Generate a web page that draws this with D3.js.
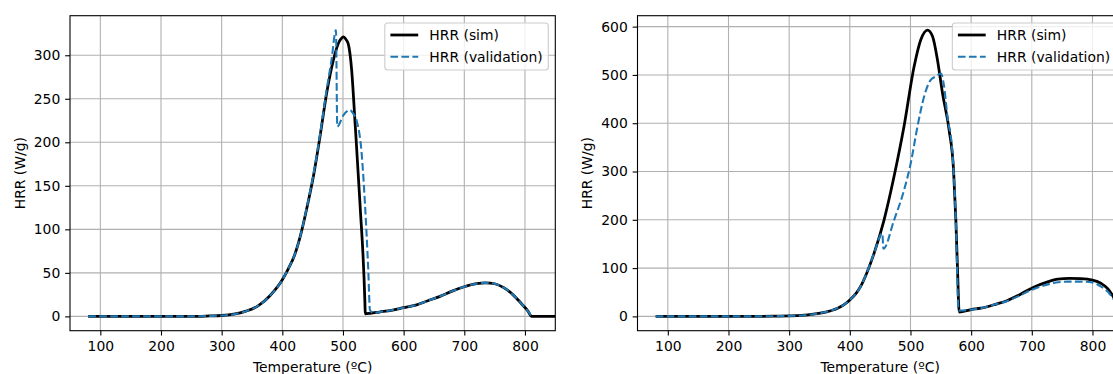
<!DOCTYPE html>
<html>
<head>
<meta charset="utf-8">
<script src="https://cdn.jsdelivr.net/npm/d3@7"></script>
<style>
  body { margin: 0; background: #fff; }
  svg text { font-family: "DejaVu Sans", sans-serif; font-size: 13.9px; fill: #000; }
</style>
</head>
<body>
<svg id="chart" width="1113" height="374"></svg>
<script>
// temperature ticks shared by both panels
const xTicks = [100, 200, 300, 400, 500, 600, 700, 800]
const yTicksLeft = [0, 50, 100, 150, 200, 250, 300]
const yTicksRight = [0, 100, 200, 300, 400, 500, 600]

// left panel
const simLeftT = [80, 150, 200, 250, 280, 300, 320, 340, 360, 380, 400, 410, 420, 430, 440, 451, 462, 473, 484, 492, 497, 500.5, 504, 508.7, 514.3, 519.7, 528, 536.2, 536.7, 545, 560, 580, 600, 620, 640, 660, 680, 700, 720, 735, 750, 765, 780, 795, 805, 811, 830, 850]
const simLeftV = [0, 0, 0, 0, 0.5, 1, 2.5, 6, 12, 24, 42, 55, 70, 93, 123, 160, 206, 256, 294, 313, 319, 321, 319, 313, 283, 225, 130, 15, 3, 3.5, 5, 7, 10, 13, 18, 23, 29, 34, 37.5, 38.5, 37.5, 33, 25, 14, 6, 0, 0, 0]
const valLeftT = [80, 150, 200, 250, 280, 300, 320, 340, 360, 380, 400, 410, 420, 430, 440, 451, 462, 473, 481, 488.4, 490.6, 500.5, 511.5, 517, 522.5, 530.8, 536.2, 541.7, 544.5, 550, 560, 580, 600, 620, 640, 660, 680, 700, 720, 735, 750, 765, 780, 795, 805, 811]
const valLeftV = [0, 0, 0, 0, 0.5, 1, 2.5, 6, 12, 24, 42, 55, 70, 93, 124, 162, 208, 260, 294, 329, 218, 231, 237, 233, 225, 187, 130, 53, 7, 4, 5, 7, 10, 13, 18, 23, 29, 34, 37.5, 38.5, 37.5, 33, 25, 14, 6, 0]

// right panel
const simRightT = [80, 150, 200, 250, 280, 300, 320, 340, 360, 380, 390, 400, 410, 417.8, 428, 439.8, 456.3, 472.8, 489.3, 505.9, 517, 528, 536.3, 544.5, 552.8, 563.7, 571, 574.8, 577.6, 580.3, 600, 616, 640, 660, 680, 704, 725, 743, 762, 781, 800, 814.5, 825.5, 836, 845, 850]
const simRightV = [0, 0, 0, 0, 0.5, 1, 2, 4.5, 9, 17, 24, 34, 47, 62, 90, 130, 199, 289, 393, 517, 573, 593, 580, 531, 462, 386, 303, 199, 95, 9, 14, 17, 25, 33, 45, 61, 71, 77, 78.5, 78, 75, 68, 57, 37, 15, 5]
const valRightT = [80, 150, 200, 250, 280, 300, 320, 340, 360, 380, 390, 400, 410, 417.8, 428, 439.8, 453.6, 455.3, 472.8, 489.3, 500.4, 511.5, 522.4, 533.5, 542, 550, 555, 561, 569.3, 574.8, 579.3, 600, 616, 640, 660, 680, 700, 720, 740, 760, 780, 800, 815, 825.5, 836, 845, 850]
const valRightV = [0, 0, 0, 0, 0.5, 1, 2, 4.5, 9, 17, 24, 34, 47, 62, 90, 130, 172, 140, 199, 261, 317, 393, 455, 490, 497, 503, 480, 413, 337, 199, 12, 14, 17, 25, 32, 43, 55, 64, 70, 72, 72, 70, 61, 51, 33, 14, 5]

const xDomain = [50, 850]
const legendLabels = ["HRR (sim)", "HRR (validation)"]
const xLabel = "Temperature (ºC)"
const yLabel = "HRR (W/g)"

const svg = d3.select("#chart")
const plotTop = 15.7, plotBottom = 330.7

const zip = (t, v) => t.map((d, i) => ({ t: d, v: v[i] }))

function panel(x0, x1, sim, val, yTicks, id) {
    const all = sim.concat(val).map(d => d.v)
    const lo = d3.min(all), hi = d3.max(all)
    const pad = (hi - lo) * 0.05

    const x = d3.scaleLinear().domain(xDomain).range([x0, x1])
    const y = d3.scaleLinear().domain([lo - pad, hi + pad]).range([plotBottom, plotTop])

    const g = svg.append("g")

    svg.append("clipPath").attr("id", id)
        .append("rect")
        .attr("x", x0).attr("y", plotTop)
        .attr("width", x1 - x0).attr("height", plotBottom - plotTop)

    // grid
    g.append("g").selectAll("line").data(xTicks).join("line")
        .attr("x1", d => x(d)).attr("x2", d => x(d))
        .attr("y1", plotTop).attr("y2", plotBottom)
        .style("stroke", "#b0b0b0").style("stroke-width", 1.1)
    g.append("g").selectAll("line").data(yTicks).join("line")
        .attr("x1", x0).attr("x2", x1)
        .attr("y1", d => y(d)).attr("y2", d => y(d))
        .style("stroke", "#b0b0b0").style("stroke-width", 1.1)

    const line = d3.line().x(d => x(d.t)).y(d => y(d.v)).curve(d3.curveMonotoneX)

    const lines = g.append("g").attr("clip-path", `url(#${id})`)
    lines.append("path").datum(sim)
        .attr("d", line)
        .style("fill", "none").style("stroke", "#000").style("stroke-width", 2.78)
        .style("stroke-linejoin", "round")
    lines.append("path").datum(val)
        .attr("d", line)
        .style("fill", "none").style("stroke", "#1f77b4").style("stroke-width", 2.08)
        .style("stroke-dasharray", "7.7,3.3")

    // axes
    const xAxis = d3.axisBottom(x).tickValues(xTicks).tickSize(4.86).tickPadding(4.86)
    const yAxis = d3.axisLeft(y).tickValues(yTicks).tickSize(4.86).tickPadding(4.86)
    const ax = g.append("g").attr("transform", `translate(0,${plotBottom})`).call(xAxis)
    const ay = g.append("g").attr("transform", `translate(${x0},0)`).call(yAxis)
    for (const a of [ax, ay]) {
        a.select(".domain").remove()
        a.selectAll("line").style("stroke", "#000").style("stroke-width", 1.1)
        a.selectAll("text").attr("font-size", null).attr("font-family", null).style("fill", "#000")
    }
    ax.selectAll("text").attr("dy", "0.78em")

    g.append("rect")
        .attr("x", x0).attr("y", plotTop)
        .attr("width", x1 - x0).attr("height", plotBottom - plotTop)
        .style("fill", "none").style("stroke", "#000").style("stroke-width", 1.1)

    g.append("text")
        .attr("x", (x0 + x1) / 2).attr("y", 371.5)
        .attr("text-anchor", "middle")
        .text(xLabel)
    g.append("text")
        .attr("transform", `translate(${x0 - 50},${(plotTop + plotBottom) / 2}) rotate(-90)`)
        .attr("text-anchor", "middle").attr("dy", "0.35em")
        .text(yLabel)

    // legend
    const leg = g.append("g")
    const box = leg.append("rect")
    const items = leg.selectAll("g").data(legendLabels).join("g")
        .attr("transform", (d, i) => `translate(0,${35 + i * 21.7})`)
    items.append("line")
        .attr("x1", 0).attr("x2", 27.8)
        .style("stroke", (d, i) => i ? "#1f77b4" : "#000")
        .style("stroke-width", (d, i) => i ? 2.08 : 2.78)
        .style("stroke-dasharray", (d, i) => i ? "7.7,3.3" : null)
    items.append("text")
        .attr("x", 38.9).attr("dy", "0.35em")
        .text(d => d)
    const w = d3.max(items.selectAll("text").nodes(), n => n.getComputedTextLength()) + 38.9 + 5.6
    const bx = x1 - 7 - w - 5.6
    leg.attr("transform", `translate(${bx + 5.6},0)`)
    box.attr("x", -5.6).attr("y", 23).attr("width", w + 5.6).attr("height", 47)
        .attr("rx", 3)
        .style("fill", "rgba(255,255,255,0.8)").style("stroke", "#cccccc").style("stroke-width", 1.1)
}

panel(70, 555.3, zip(simLeftT, simLeftV), zip(valLeftT, valLeftV), yTicksLeft, "clipL")
panel(637.5, 1122.8, zip(simRightT, simRightV), zip(valRightT, valRightV), yTicksRight, "clipR")
</script>
</body>
</html>
